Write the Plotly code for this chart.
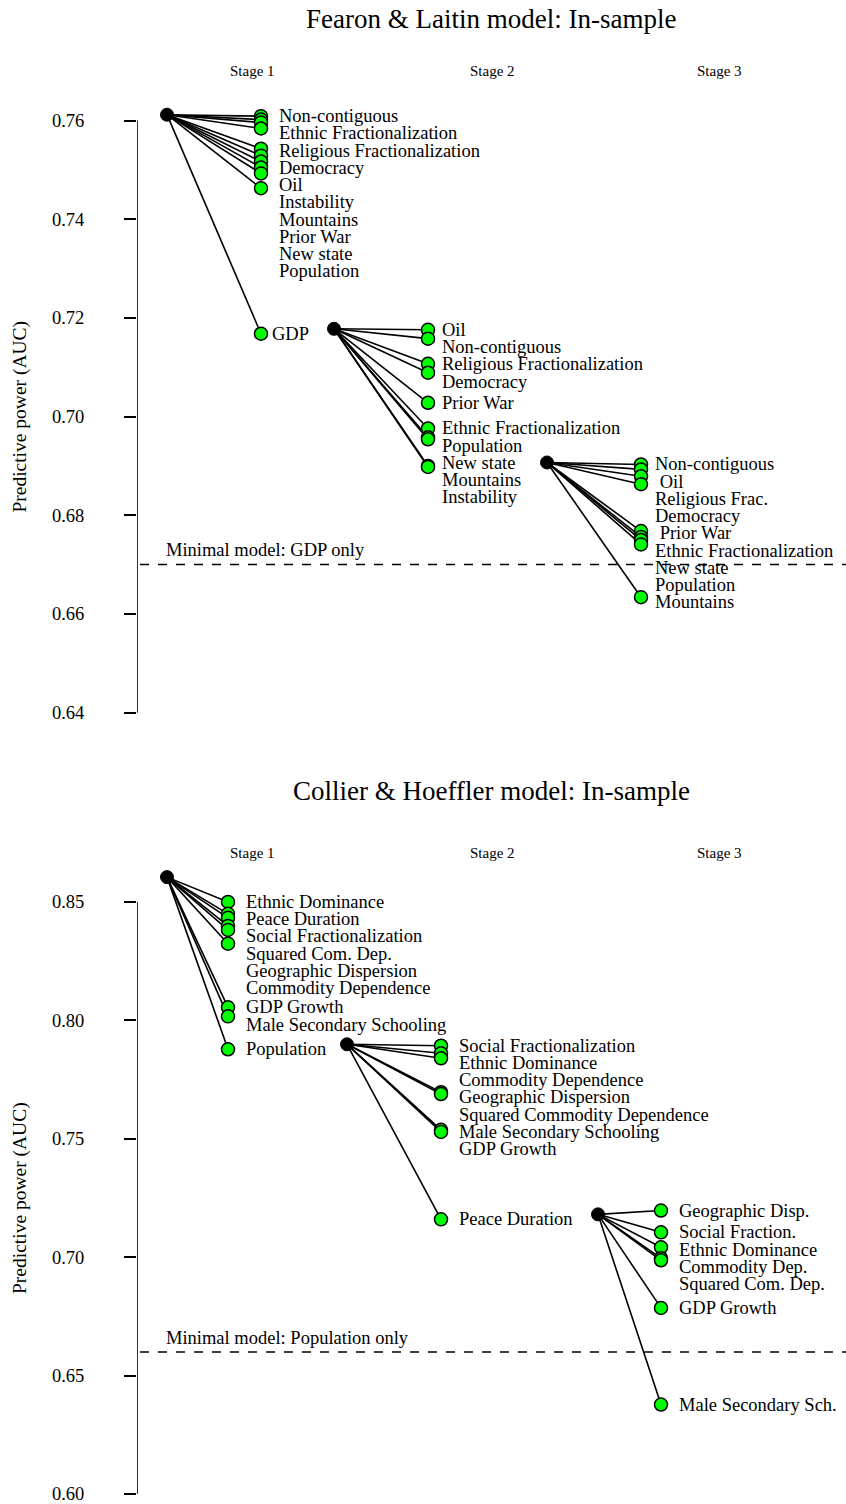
import plotly.graph_objects as go

# ---------------- DATA ----------------
# Fearon & Laitin (top panel)
fl_titles = "Fearon & Laitin model: In-sample"
fl_minimal_label = "Minimal model: GDP only"
fl_minimal_auc = 0.67

fl_s1_root = 0.7612
fl_s1_vars = ["Non-contiguous", "Ethnic Fractionalization", "Religious Fractionalization",
              "Democracy", "Oil", "Instability", "Mountains", "Prior War", "New state",
              "Population", "GDP"]
fl_s1_auc = [0.7609, 0.7602, 0.7596, 0.7584, 0.7543, 0.7529, 0.7517, 0.7505, 0.7493,
             0.7463, 0.7168]

fl_s2_root = 0.7178
fl_s2_vars = ["Oil", "Non-contiguous", "Religious Fractionalization", "Democracy",
              "Prior War", "Ethnic Fractionalization", "Population", "New state",
              "Mountains", "Instability"]
fl_s2_auc = [0.7176, 0.7158, 0.7107, 0.7089, 0.7028, 0.6976, 0.6958, 0.6954, 0.6900, 0.6898]

fl_s3_root = 0.6907
fl_s3_vars = ["Non-contiguous", "\u00a0Oil", "Religious Frac.", "Democracy", "\u00a0Prior War",
              "Ethnic Fractionalization", "New state", "Population", "Mountains"]
fl_s3_auc = [0.6903, 0.6893, 0.6879, 0.6863, 0.6768, 0.6756, 0.6750, 0.6741, 0.6634]

fl_ticks = [0.64, 0.66, 0.68, 0.70, 0.72, 0.74, 0.76]

# Collier & Hoeffler (bottom panel)
ch_titles = "Collier & Hoeffler model: In-sample"
ch_minimal_label = "Minimal model: Population only"
ch_minimal_auc = 0.66

ch_s1_root = 0.8605
ch_s1_vars = ["Ethnic Dominance", "Peace Duration", "Social Fractionalization",
              "Squared Com. Dep.", "Geographic Dispersion", "Commodity Dependence",
              "GDP Growth", "Male Secondary Schooling", "Population"]
ch_s1_auc = [0.8500, 0.8450, 0.8433, 0.8399, 0.8382, 0.8324, 0.8055, 0.8017, 0.7878]

ch_s2_root = 0.7899
ch_s2_vars = ["Social Fractionalization", "Ethnic Dominance", "Commodity Dependence",
              "Geographic Dispersion", "Squared Commodity Dependence",
              "Male Secondary Schooling", "GDP Growth", "Peace Duration"]
ch_s2_auc = [0.7893, 0.7861, 0.7840, 0.7697, 0.7689, 0.7538, 0.7529, 0.7160]

ch_s3_root = 0.7181
ch_s3_vars = ["Geographic Disp.", "Social Fraction.", "Ethnic Dominance", "Commodity Dep.",
              "Squared Com. Dep.", "GDP Growth", "Male Secondary Sch."]
ch_s3_auc = [0.7197, 0.7105, 0.7042, 0.6996, 0.6987, 0.6786, 0.6378]

ch_ticks = [0.60, 0.65, 0.70, 0.75, 0.80, 0.85]

stage_names = ["Stage 1", "Stage 2", "Stage 3"]
y_title = "Predictive power (AUC)"

# ---------------- LAYOUT ----------------
W, H = 846, 1504
FONT = "Liberation Serif"
AXIS_X = 137
LABEL_GAP_PX = 17.3
LABEL_SIZE = 18.5

panels = [
    dict(title=fl_titles, minimal=(fl_minimal_label, fl_minimal_auc), ticks=fl_ticks,
         stages=[(fl_s1_root, fl_s1_vars, fl_s1_auc), (fl_s2_root, fl_s2_vars, fl_s2_auc),
                 (fl_s3_root, fl_s3_vars, fl_s3_auc)],
         anchors=((0.76, 121), (0.64, 715)), plot_px=(88, 745),
         root_x=[167, 334, 547], child_x=[261, 428, 641], label_x=[277, 440, 653],
         label_x_override={(0, "GDP"): 270},
         title_y=19, stage_y=71, minimal_y_px=552),
    dict(title=ch_titles, minimal=(ch_minimal_label, ch_minimal_auc), ticks=ch_ticks,
         stages=[(ch_s1_root, ch_s1_vars, ch_s1_auc), (ch_s2_root, ch_s2_vars, ch_s2_auc),
                 (ch_s3_root, ch_s3_vars, ch_s3_auc)],
         anchors=((0.85, 905), (0.60, 1499)), plot_px=(850, 1504),
         root_x=[167, 347, 598], child_x=[228, 441, 661], label_x=[244, 457, 677],
         label_x_override={},
         title_y=794, stage_y=856, minimal_y_px=1342),
]
stage_title_x = [252, 492, 719]

fig = go.Figure()
annotations = []
shapes = []
layout_axes = {}

for pi, P in enumerate(panels):
    xa = "x" if pi == 0 else "x2"
    ya = "y" if pi == 0 else "y2"
    xkey = "xaxis" if pi == 0 else "xaxis2"
    ykey = "yaxis" if pi == 0 else "yaxis2"
    (v_hi, p_hi), (v_lo, p_lo) = P["anchors"]
    k = (p_lo - p_hi) / (v_hi - v_lo)  # px per unit
    top_px, bot_px = P["plot_px"]
    r_top = v_hi + (p_hi - top_px) / k
    r_bot = v_hi - (bot_px - p_hi) / k
    gap = LABEL_GAP_PX / k

    layout_axes[xkey] = dict(domain=[AXIS_X / W, 1], range=[AXIS_X, W], visible=False,
                             anchor=ya, fixedrange=True)
    layout_axes[ykey] = dict(domain=[(H - bot_px) / H, (H - top_px) / H],
                             range=[r_bot, r_top], anchor=xa, showline=False,
                             showgrid=False, zeroline=False, ticks="outside", ticklen=12,
                             tickwidth=1.5, tickcolor="black", tickvals=P["ticks"],
                             tickformat=".2f", ticklabelstandoff=36,
                             ticklabeloverflow="allow",
                             tickfont=dict(family=FONT, size=18.5, color="black"))

    # axis line between extreme ticks
    shapes.append(dict(type="line", xref=xa, yref=ya, x0=AXIS_X, x1=AXIS_X,
                       y0=min(P["ticks"]), y1=max(P["ticks"]),
                       line=dict(color="black", width=1.6)))
    # minimal model dashed line
    mlabel, mval = P["minimal"]
    shapes.append(dict(type="line", xref=xa, yref=ya, x0=140, x1=W, y0=mval, y1=mval,
                       line=dict(color="black", width=1.5, dash="dash")))
    annotations.append(dict(x=164, y=1 - P["minimal_y_px"] / H, xref=xa, yref="paper",
                            text=mlabel, showarrow=False, xanchor="left", yanchor="middle",
                            font=dict(family=FONT, size=LABEL_SIZE, color="black")))

    # titles
    annotations.append(dict(x=491 / W, y=1 - P["title_y"] / H, xref="paper", yref="paper",
                            text=P["title"], showarrow=False, xanchor="center",
                            yanchor="middle", font=dict(family=FONT, size=27, color="black")))
    for si, sn in enumerate(stage_names):
        annotations.append(dict(x=stage_title_x[si], y=1 - P["stage_y"] / H, xref=xa,
                                yref="paper", text=sn, showarrow=False, xanchor="center",
                                yanchor="middle",
                                font=dict(family=FONT, size=15, color="black")))
    # y title
    annotations.append(dict(x=20 / W, y=1 - ((p_hi + p_lo) / 2) / H, xref="paper",
                            yref="paper", text=y_title, textangle=-90, showarrow=False,
                            xanchor="center", yanchor="middle",
                            font=dict(family=FONT, size=19.5, color="black")))

    for si, (root, names, vals) in enumerate(P["stages"]):
        rx, cx, lx = P["root_x"][si], P["child_x"][si], P["label_x"][si]
        lx_list, ly_list = [], []
        for v in vals:
            lx_list += [rx, cx, None]
            ly_list += [root, v, None]
        fig.add_trace(go.Scatter(x=lx_list, y=ly_list, mode="lines", xaxis=xa, yaxis=ya,
                                 line=dict(color="black", width=1.6), hoverinfo="skip",
                                 showlegend=False))
        fig.add_trace(go.Scatter(x=[cx] * len(vals), y=vals, mode="markers", xaxis=xa,
                                 yaxis=ya, showlegend=False, text=names,
                                 marker=dict(size=13, color="#00ff00",
                                             line=dict(color="black", width=1.5))))
        fig.add_trace(go.Scatter(x=[rx], y=[root], mode="markers", xaxis=xa, yaxis=ya,
                                 showlegend=False,
                                 marker=dict(size=13, color="black",
                                             line=dict(color="black", width=1))))
        # spread labels downward to avoid overlap
        prev = None
        for name, v in zip(names, vals):
            ly = v if prev is None else min(v, prev - gap)
            prev = ly
            x_lab = P["label_x_override"].get((si, name), lx)
            annotations.append(dict(x=x_lab, y=ly, xref=xa, yref=ya, text=name,
                                    showarrow=False, xanchor="left", yanchor="middle",
                                    font=dict(family=FONT, size=LABEL_SIZE, color="black")))

fig.update_layout(width=W, height=H, margin=dict(l=0, r=0, t=0, b=0),
                  plot_bgcolor="white", paper_bgcolor="white", showlegend=False,
                  annotations=annotations, shapes=shapes, **layout_axes)

fig.write_html("out.html")
